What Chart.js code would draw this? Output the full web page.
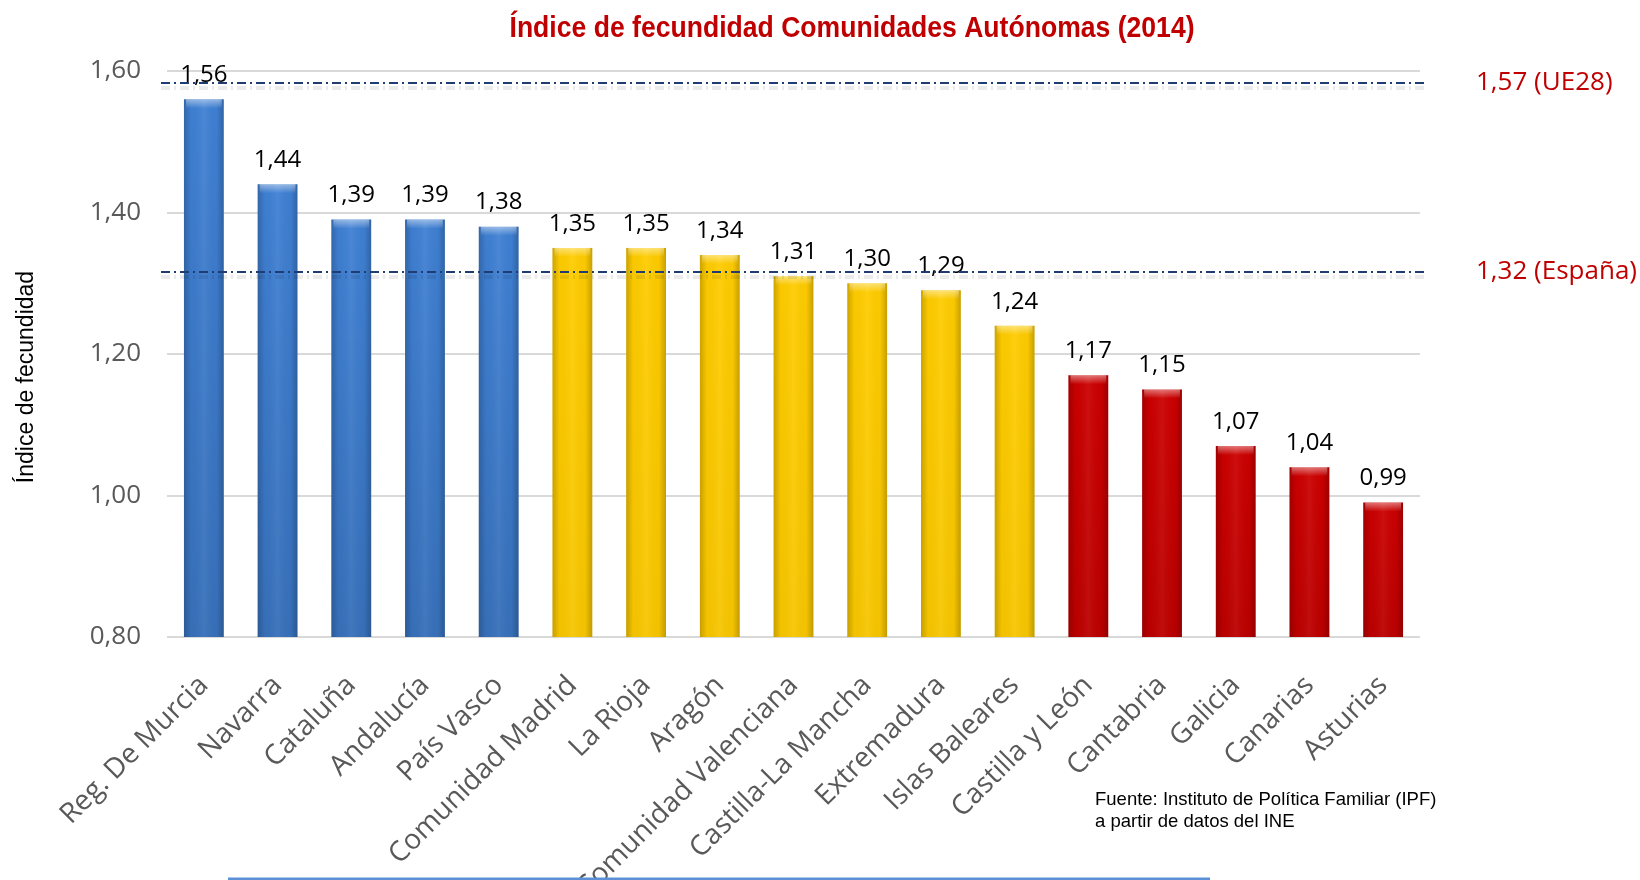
<!DOCTYPE html>
<html>
<head>
<meta charset="utf-8">
<script src="https://cdn.jsdelivr.net/npm/chart.js@4.4.1/dist/chart.umd.min.js"></script>
<style>
  html, body { margin: 0; padding: 0; background: #fff; }
  canvas { display: block; }
</style>
</head>
<body>
<canvas id="chart" width="1640" height="880"></canvas>
<script>
// data
const regions = ['Reg. De Murcia', 'Navarra', 'Cataluña', 'Andalucía', 'País Vasco',
  'Comunidad Madrid', 'La Rioja', 'Aragón', 'Comunidad Valenciana', 'Castilla-La Mancha',
  'Extremadura', 'Islas Baleares', 'Castilla y León', 'Cantabria', 'Galicia', 'Canarias', 'Asturias'];
const fertility = [1.56, 1.44, 1.39, 1.39, 1.38, 1.35, 1.35, 1.34, 1.31, 1.30, 1.29, 1.24, 1.17, 1.15, 1.07, 1.04, 0.99];
const groupOf = ['high', 'high', 'high', 'high', 'high', 'mid', 'mid', 'mid', 'mid', 'mid', 'mid', 'mid',
  'low', 'low', 'low', 'low', 'low'];
const refValues = [1.583, 1.316];
const refLabels = ['1,57 (UE28)', '1,32 (España)'];
const yMin = 0.80, yMax = 1.60, yStep = 0.20;

const groupColors = { high: '#3F80D4', mid: '#FFCC00', low: '#CC0000' };
const baseShade = { high: 0.12, mid: 0.03, low: 0.08 };

const fmt = v => v.toFixed(2).replace('.', ',');

const decor = {
  id: 'decor',
  afterDatasetsDraw(chart) {
    const ctx = chart.ctx;
    const area = chart.chartArea;
    const meta = chart.getDatasetMeta(0);
    meta.data.forEach((bar, i) => {
      const left = bar.x - bar.width / 2, w = bar.width, top = bar.y;
      const bottom = Math.min(bar.base, area.bottom);
      const h = bottom - top;
      // side shading for the rounded look
      const g = ctx.createLinearGradient(left, 0, left + w, 0);
      g.addColorStop(0, 'rgba(0,0,0,0.2)');
      g.addColorStop(0.18, 'rgba(0,0,0,0.02)');
      g.addColorStop(0.5, 'rgba(255,255,255,0.06)');
      g.addColorStop(0.82, 'rgba(0,0,0,0.02)');
      g.addColorStop(1, 'rgba(0,0,0,0.22)');
      ctx.fillStyle = g;
      ctx.fillRect(left, top, w, h);
      // slight darkening toward the base
      const v = ctx.createLinearGradient(0, top, 0, bottom);
      v.addColorStop(0, 'rgba(0,0,0,0)');
      v.addColorStop(1, 'rgba(0,0,0,' + baseShade[groupOf[i]] + ')');
      ctx.fillStyle = v;
      ctx.fillRect(left, top, w, h);
      // top bevel
      const t = ctx.createLinearGradient(0, top, 0, top + 9);
      t.addColorStop(0, 'rgba(255,255,255,0.45)');
      t.addColorStop(1, 'rgba(255,255,255,0)');
      ctx.fillStyle = t;
      ctx.fillRect(left + 2, top, w - 4, 9);
      // value label
      ctx.fillStyle = '#000';
      ctx.font = '24px "Open Sans", sans-serif';
      ctx.textAlign = 'center';
      ctx.textBaseline = 'bottom';
      ctx.fillText(fmt(fertility[i]), bar.x, bar.y - 12);
    });

    // reference lines
    const y = chart.scales.y;
    refValues.forEach((val, i) => {
      const py = Math.round(y.getPixelForValue(val));
      ctx.save();
      ctx.strokeStyle = 'rgba(0,0,0,0.08)';
      ctx.lineWidth = 4;
      ctx.setLineDash([9, 4, 2, 4]);
      ctx.beginPath();
      ctx.moveTo(area.left - 6, py + 5);
      ctx.lineTo(area.right + 8, py + 5);
      ctx.stroke();
      ctx.strokeStyle = '#1F3D73';
      ctx.lineWidth = 2;
      ctx.beginPath();
      ctx.moveTo(area.left - 6, py);
      ctx.lineTo(area.right + 8, py);
      ctx.stroke();
      ctx.restore();
      ctx.fillStyle = '#C00000';
      ctx.font = '26px "Open Sans", sans-serif';
      ctx.textAlign = 'left';
      ctx.textBaseline = 'middle';
      ctx.fillText(refLabels[i], 1476, py);
    });
  },
  afterDraw(chart) {
    const ctx = chart.ctx;
    ctx.save();
    ctx.fillStyle = '#C00000';
    ctx.font = 'bold 29px "Liberation Sans Narrow", "Arial Narrow", "Liberation Sans", sans-serif';
    ctx.textAlign = 'center';
    ctx.textBaseline = 'middle';
    const title = 'Índice de fecundidad Comunidades Autónomas (2014)';
    const tw = ctx.measureText(title).width;
    ctx.translate(852, 29);
    if (tw > 685) ctx.scale(685 / tw, 1);
    ctx.fillText(title, 0, 0);
    ctx.restore();

    ctx.save();
    ctx.translate(27, 377);
    ctx.rotate(-Math.PI / 2);
    ctx.fillStyle = '#000';
    ctx.font = '23px "Liberation Sans", Arial, sans-serif';
    ctx.textAlign = 'center';
    ctx.textBaseline = 'middle';
    ctx.fillText('Índice de fecundidad', 0, 0);
    ctx.restore();

    ctx.fillStyle = '#000';
    ctx.font = '18.5px "Liberation Sans", Arial, sans-serif';
    ctx.textAlign = 'left';
    ctx.textBaseline = 'middle';
    ctx.fillText('Fuente: Instituto de Política Familiar (IPF)', 1095, 800);
    ctx.fillText('a partir de datos del INE', 1095, 822);

    ctx.strokeStyle = '#5B8FD6';
    ctx.lineWidth = 3;
    ctx.beginPath();
    ctx.moveTo(228, 879);
    ctx.lineTo(1210, 879);
    ctx.stroke();
  }
};

new Chart(document.getElementById('chart'), {
  type: 'bar',
  data: {
    labels: regions,
    datasets: [{
      data: fertility,
      backgroundColor: groupOf.map(g => groupColors[g]),
      borderWidth: 0,
      categoryPercentage: 1,
      barPercentage: 0.54
    }]
  },
  options: {
    responsive: false,
    animation: false,
    layout: { padding: { top: 71, right: 220, left: 0, bottom: 0 } },
    scales: {
      x: {
        grid: { display: false },
        border: { display: false },
        ticks: {
          autoSkip: false,
          maxRotation: 45,
          minRotation: 45,
          padding: 24,
          color: '#595959',
          font: { family: '"Open Sans", sans-serif', size: 28 }
        },
        afterFit(scale) { scale.height = 243; }
      },
      y: {
        min: yMin,
        max: yMax,
        border: { display: false },
        grid: { color: '#D9D9D9', lineWidth: 2, drawTicks: false },
        ticks: {
          stepSize: yStep,
          padding: 26,
          color: '#595959',
          font: { family: '"Open Sans", sans-serif', size: 26 },
          callback: v => fmt(v)
        },
        afterFit(scale) { scale.width = 167; }
      }
    },
    plugins: {
      legend: { display: false },
      tooltip: { enabled: false }
    }
  },
  plugins: [decor]
});
</script>
</body>
</html>
